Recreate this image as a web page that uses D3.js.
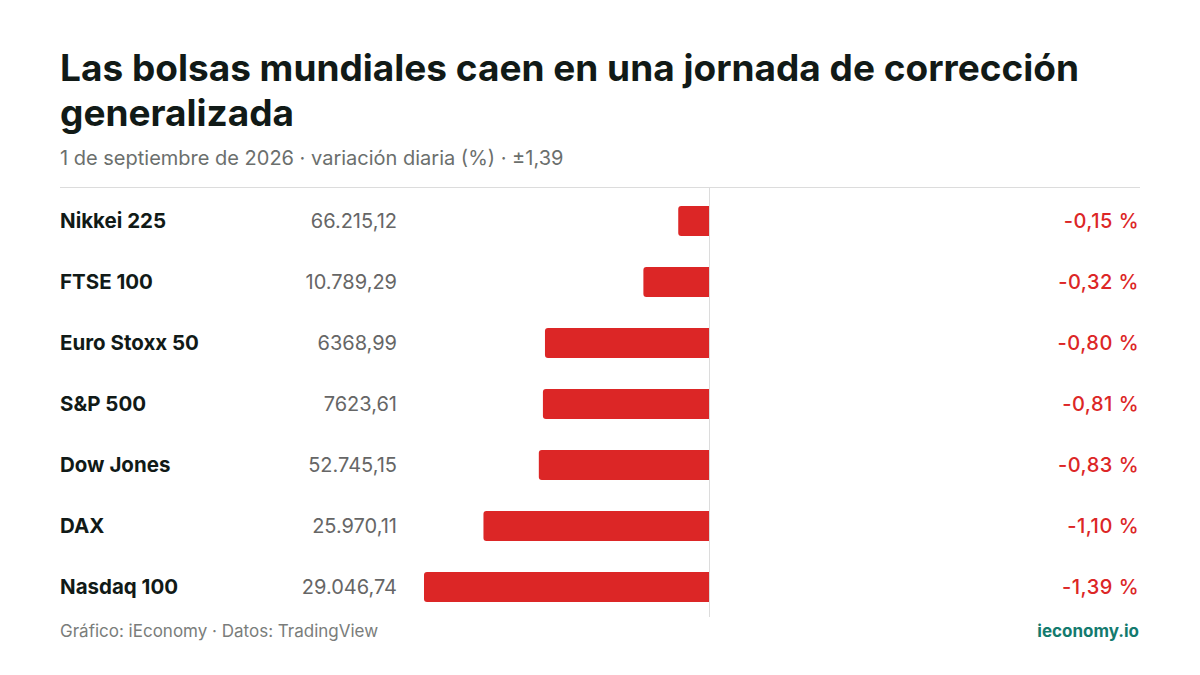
<!DOCTYPE html>
<html><head><meta charset="utf-8">
<script src="https://cdn.jsdelivr.net/npm/d3@7"></script>
<style>body{margin:0;background:#fff}svg{font-family:Inter,"Noto Sans",sans-serif}</style>
</head><body><svg id="c" width="1200" height="675"></svg>
<script>
const names=["Nikkei 225","FTSE 100","Euro Stoxx 50","S&P 500","Dow Jones","DAX","Nasdaq 100"];
const levels=["66.215,12","10.789,29","6368,99","7623,61","52.745,15","25.970,11","29.046,74"];
const changes=[-0.15,-0.32,-0.80,-0.81,-0.83,-1.10,-1.39];
const svg=d3.select("#c");
svg.append("rect").attr("width",1200).attr("height",675).attr("fill","#fff");
const t=svg.append("text").attr("x",60).attr("font-size",37).attr("font-weight",700).attr("fill","#111a17");
t.append("tspan").attr("x",60).attr("y",81).text("Las bolsas mundiales caen en una jornada de corrección");
t.append("tspan").attr("x",60).attr("y",126).text("generalizada");
svg.append("text").attr("x",60).attr("y",165).attr("font-size",20).attr("fill","#6b6f6d").text("1 de septiembre de 2026 · variación diaria (%) · ±1,39");
svg.append("line").attr("x1",60).attr("x2",1140).attr("y1",187.5).attr("y2",187.5).attr("stroke","#dcdcdc");
const x=d3.scaleLinear().domain([-1.39,0]).range([424,709]);
const y=d3.scaleBand().domain(names).range([190.5,617.5]).paddingInner(0.5).paddingOuter(0.25);
svg.append("line").attr("x1",709.5).attr("x2",709.5).attr("y1",187).attr("y2",617).attr("stroke","#dcdcdc");
const g=svg.selectAll("g.r").data(names).enter().append("g");
g.append("path").attr("fill","#dc2626").attr("d",(d,i)=>{
 const x0=x(changes[i]),x1=x(0),y0=y(d)+y.bandwidth()/2-15,h=30,r=3;
 return `M${x1},${y0}H${x0+r}Q${x0},${y0} ${x0},${y0+r}V${y0+h-r}Q${x0},${y0+h} ${x0+r},${y0+h}H${x1}Z`;});
const cy=d=>y(d)+y.bandwidth()/2+7;
g.append("text").attr("x",60).attr("y",cy).attr("font-size",20.5).attr("font-weight",700).attr("fill","#111a17").text(d=>d);
g.append("text").attr("x",397).attr("y",cy).attr("text-anchor","end").attr("font-size",20).attr("fill","#666").text((d,i)=>levels[i]);
g.append("text").attr("x",1139).attr("y",cy).attr("text-anchor","end").attr("font-size",20).attr("font-weight",500).attr("letter-spacing",0.5).attr("fill","#dc2626").text((d,i)=>d3.format(".2f")(changes[i]).replace("−","-").replace(".",",")+" %");
svg.append("text").attr("x",60).attr("y",637).attr("font-size",17).attr("fill","#7a7d7b").text("Gráfico: iEconomy · Datos: TradingView");
svg.append("text").attr("x",1139).attr("y",637).attr("text-anchor","end").attr("font-size",17).attr("font-weight",700).attr("fill","#137a6e").text("ieconomy.io");
</script></body></html>
